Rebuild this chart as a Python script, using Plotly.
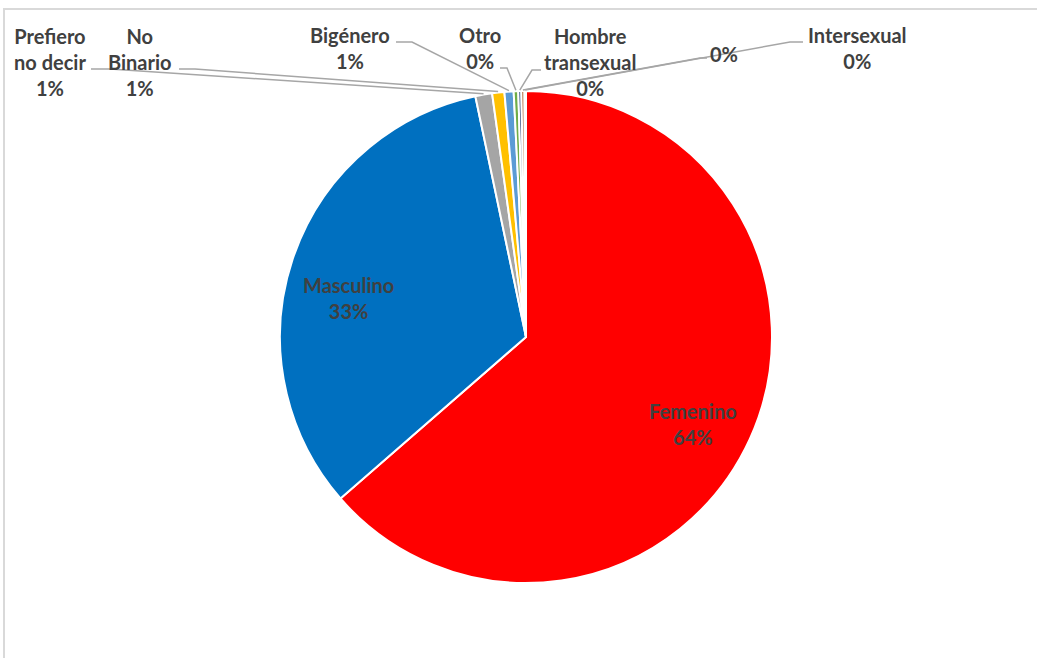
import math
import plotly.graph_objects as go

# ---- data ----
categories = ["Femenino", "Masculino", "Prefiero<br>no decir", "No<br>Binario", "Bigénero",
              "Otro", "Hombre<br>transexual", "", "Intersexual"]
values = [63.6, 33.1, 1.1, 0.8, 0.6, 0.3, 0.2, 0.2, 0.1]
colors = ["#FF0000", "#0070C0", "#A5A5A5", "#FFC000", "#5B9BD5",
          "#70AD47", "#264478", "#9E480E", "#636363"]

W, H = 1037, 658
cx, cy, R = 526, 337, 246

def px(x):
    return x / W

def py(y):
    return 1 - y / H

total = sum(values)
pct_text = [f"{round(v / total * 100)}%" for v in values]

fig = go.Figure(go.Pie(
    labels=[c if c else " " for c in categories],
    values=values,
    sort=False,
    direction="clockwise",
    rotation=0,
    marker=dict(colors=colors, line=dict(color="white", width=2)),
    textinfo="none",
    hoverinfo="label+percent",
    showlegend=False,
    domain=dict(x=[px(cx - R), px(cx + R)], y=[py(cy + R), py(cy - R)]),
))

font = dict(family="Lato, 'Open Sans', sans-serif", size=20, color="#404040")
annotations = []
shapes = []

# big slice labels (layout positions)
big_pos = {0: (693, 424), 1: (348, 298)}
for i, (x, y) in big_pos.items():
    annotations.append(dict(x=px(x), y=py(y), xref="paper", yref="paper",
                            text=f"<b>{categories[i]}<br>{pct_text[i]}</b>",
                            showarrow=False, font=font, xanchor="center", yanchor="middle"))

# small slice labels: (label center x, y), leader start, elbow
small_layout = {
    2: ((50, 62), (91, 69), (110, 69)),
    3: ((140, 62), (179, 69), (195, 69)),
    4: ((350, 48), (396, 42), (412, 42)),
    5: ((480, 48), (500, 68), (507, 68)),
    6: ((590, 62), (541, 70), (532, 70)),
    7: ((724, 54), (707, 58), (700, 58)),
    8: ((857, 48), (803, 42), (790, 42)),
}

cum = 0.0
mids = []
for v in values:
    mids.append((cum + v / 2) / total * 2 * math.pi)
    cum += v

for i, ((lx, ly), (sx, sy), (ex, ey)) in small_layout.items():
    name = categories[i]
    txt = f"<b>{name}<br>{pct_text[i]}</b>" if name else f"<b>{pct_text[i]}</b>"
    annotations.append(dict(x=px(lx), y=py(ly), xref="paper", yref="paper", text=txt,
                            showarrow=False, font=font, xanchor="center", yanchor="middle"))
    th = mids[i]
    tx = cx + (R + 1) * math.sin(th)
    ty = cy - (R + 1) * math.cos(th)
    path = f"M {px(sx)} {py(sy)} L {px(ex)} {py(ey)} L {px(tx)} {py(ty)}"
    shapes.append(dict(type="path", path=path, xref="paper", yref="paper",
                       line=dict(color="#A6A6A6", width=1.5)))

# chart frame
shapes.append(dict(type="rect", xref="paper", yref="paper",
                   x0=px(4), x1=1.02, y0=-0.02, y1=py(9),
                   line=dict(color="#D9D9D9", width=2), fillcolor="rgba(0,0,0,0)"))

fig.update_layout(
    width=W, height=H,
    margin=dict(l=0, r=0, t=0, b=0),
    paper_bgcolor="white", plot_bgcolor="white",
    annotations=annotations, shapes=shapes,
)

fig.write_html("out.html", config={"displayModeBar": False},
               post_script="document.body.style.margin='0px';")
